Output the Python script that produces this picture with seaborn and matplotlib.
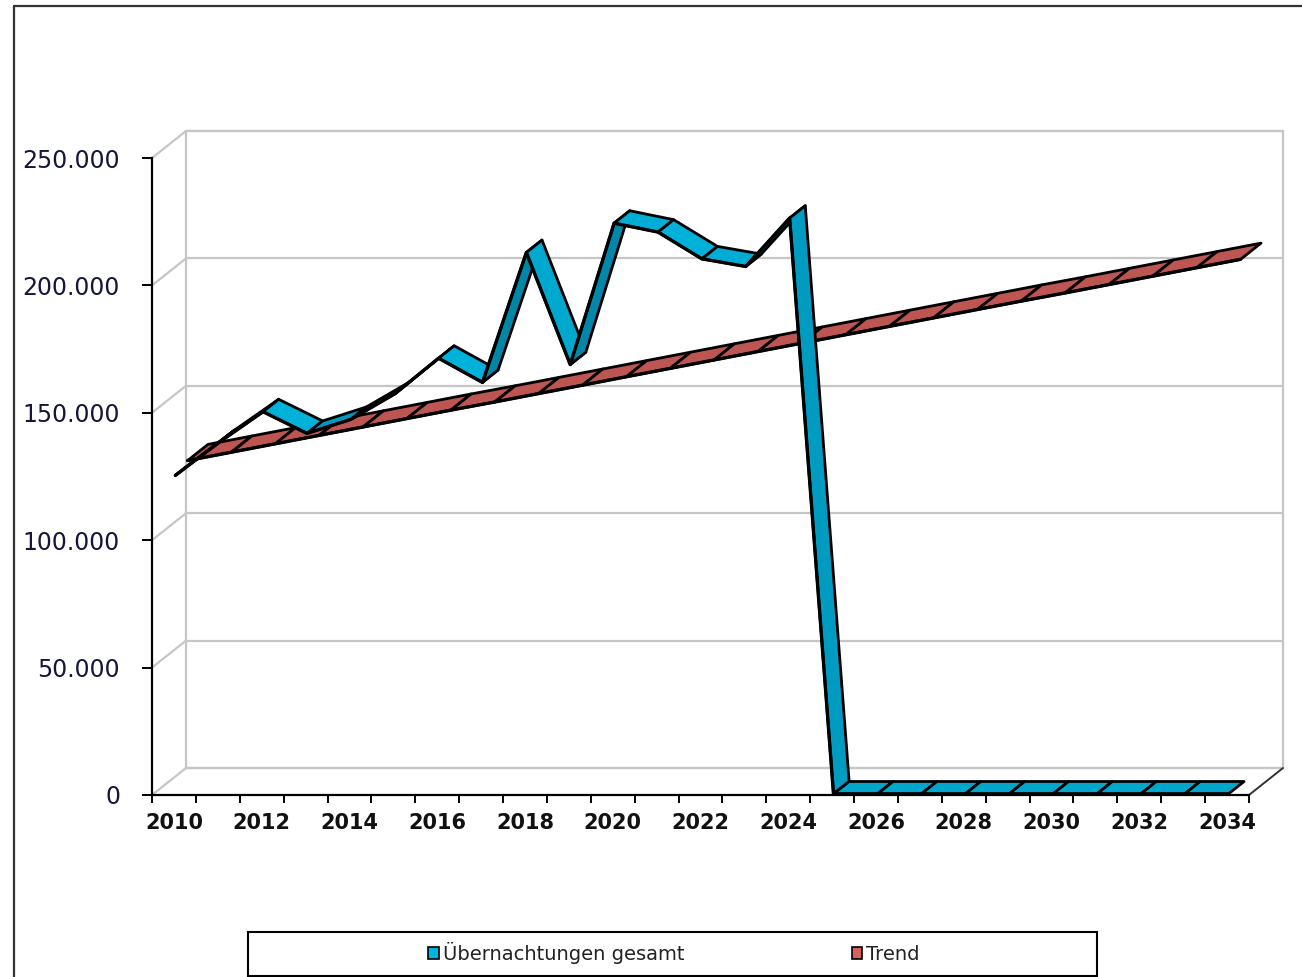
import matplotlib
matplotlib.use("Agg")
import matplotlib.pyplot as plt
import matplotlib.patches as mpatches
from matplotlib.lines import Line2D
import numpy as np
import pandas as pd
import seaborn as sns

# ---- data -------------------------------------------------------------
years = list(range(2010, 2035))
uebernachtungen = [125000, 138000, 150000, 141500, 147000, 157000, 171000,
                   161500, 212500, 168500, 224000, 220500, 210000, 207000,
                   226000, 0, 0, 0, 0, 0, 0, 0, 0, 0, 0]
trend = [127000, 130300, 133600, 136900, 140200, 143500, 146800, 150000,
         153300, 156600, 159900, 163200, 166500, 169800, 173100, 176400,
         179700, 183000, 186300, 189600, 192800, 196100, 199400, 202700,
         206000]
series_names = ["Übernachtungen gesamt", "Trend"]
y_ticks = [0, 50000, 100000, 150000, 200000, 250000]

# ---- style ------------------------------------------------------------
sns.set_theme(style="white")
plt.rcParams["font.family"] = ["DejaVu Sans"]

W, H = 1302, 977
fig = plt.figure(figsize=(W / 100, H / 100), dpi=100)
fig.patch.set_facecolor("white")

# front plane of the pseudo-3D box
x0_px, x1_px, y0_px, y1_px = 152, 1249, 795, 158
ax = fig.add_axes([x0_px / W, (H - y0_px) / H, (x1_px - x0_px) / W, (y0_px - y1_px) / H])
n = len(years)
ymax = 250000
ax.set_xlim(0, n)
ax.set_ylim(0, ymax)
ax.set_facecolor("none")

px_per_cat = (x1_px - x0_px) / n
px_per_val = (y0_px - y1_px) / ymax
# depth offset of the back wall (pixels -> data units)
DEPTH_PX = (34, 27)
DX = DEPTH_PX[0] / px_per_cat
DY = DEPTH_PX[1] / px_per_val

wall = "#c6c6c6"
# back wall, side wall and floor
ax.add_patch(mpatches.Rectangle((DX, DY), n, ymax, fill=False, edgecolor=wall,
                                lw=1.6, clip_on=False, zorder=0))
for v in y_ticks:
    ax.plot([DX, n + DX], [v + DY, v + DY], color=wall, lw=1.6, clip_on=False, zorder=0)
    ax.plot([0, DX], [v, v + DY], color=wall, lw=1.6, clip_on=False, zorder=0)
ax.plot([n, n + DX], [0, DY], color="#333333", lw=1.4, clip_on=False, zorder=1)

# ---- ribbons ----------------------------------------------------------
LIGHT = np.array([0.57, 0.82])
c_dark = np.array(matplotlib.colors.to_rgb("#0084a5"))
c_light = np.array(matplotlib.colors.to_rgb("#00b2da"))


def shade(v1, v2):
    w = px_per_cat
    h = (v2 - v1) * px_per_val
    cross = w * DEPTH_PX[1] - h * DEPTH_PX[0]
    nrm = np.array([-h, w]) if cross > 0 else np.array([h, -w])
    nrm = nrm / np.linalg.norm(nrm)
    b = float(np.dot(nrm, LIGHT))
    t = np.clip((b - 0.25) / 0.75, 0, 1)
    return c_dark + (c_light - c_dark) * t


def ribbon(values, d0, d1, color_fn, zorder):
    xs = np.arange(n) + 0.5
    for i in range(n - 1):
        a, b = values[i], values[i + 1]
        poly = [(xs[i] + d0 * DX, a + d0 * DY),
                (xs[i + 1] + d0 * DX, b + d0 * DY),
                (xs[i + 1] + d1 * DX, b + d1 * DY),
                (xs[i] + d1 * DX, a + d1 * DY)]
        ax.add_patch(mpatches.Polygon(poly, closed=True, facecolor=color_fn(a, b),
                                      edgecolor="black", lw=2.0, joinstyle="round",
                                      clip_on=False, zorder=zorder))
    edge = pd.DataFrame({"x": xs + d0 * DX, "y": np.asarray(values) + d0 * DY})
    sns.lineplot(data=edge, x="x", y="y", color="black", lw=2.4, ax=ax,
                 zorder=zorder + 0.5, clip_on=False)


trend_color = "#bd5552"
ribbon(trend, 0.4, 1.0, lambda a, b: trend_color, 3)
ribbon(uebernachtungen, 0.04, 0.5, shade, 5)

# ---- axes -------------------------------------------------------------
for side in ["top", "right"]:
    ax.spines[side].set_visible(False)
for side in ["left", "bottom"]:
    ax.spines[side].set_color("black")
    ax.spines[side].set_linewidth(1.6)
    ax.spines[side].set_zorder(2)

ax.set_yticks(y_ticks)
ax.set_yticklabels([f"{v:,}".replace(",", ".") for v in y_ticks],
                   fontsize=17, color="#16163c")
ax.tick_params(axis="y", left=True, direction="out", length=7, width=1.4,
               color="black", pad=16)

ax.set_xticks(np.arange(n + 1))
ax.set_xticklabels([])
ax.set_xticks(np.arange(0, n, 2) + 0.5, minor=True)
ax.set_xticklabels([str(y) for y in years[::2]], minor=True, fontsize=15,
                   fontweight="bold", color="#111111")
ax.tick_params(axis="x", which="major", bottom=True, direction="out", length=6,
               width=1.4, color="black")
ax.tick_params(axis="x", which="minor", bottom=True, length=0, pad=13)
ax.set_xlabel("")
ax.set_ylabel("")
ax.grid(False)

# ---- legend -----------------------------------------------------------
handles = [mpatches.Patch(facecolor="#00b4e0", edgecolor="black", lw=1.2),
           mpatches.Patch(facecolor="#d8605c", edgecolor="black", lw=1.2)]
fig.legend(handles, series_names, loc="center", ncol=2,
           bbox_to_anchor=(674 / W, 1 - 953 / H), frameon=False,
           fontsize=14, handlelength=0.55, handleheight=0.55,
           handletextpad=0.2, columnspacing=8.6, labelcolor="#222222")
fig.patches.append(mpatches.Rectangle((248 / W, 1 - 976 / H), (1097 - 248) / W,
                                      (976 - 932) / H, transform=fig.transFigure,
                                      fill=False, edgecolor="black", lw=1.5))

# chart border
fig.lines.append(Line2D([14 / W, 1], [1 - 6 / H, 1 - 6 / H], transform=fig.transFigure,
                        color="#333333", lw=1.6))
fig.lines.append(Line2D([14 / W, 14 / W], [0, 1 - 6 / H], transform=fig.transFigure,
                        color="#333333", lw=1.6))

fig.savefig("out.png", dpi=100, facecolor="white")
